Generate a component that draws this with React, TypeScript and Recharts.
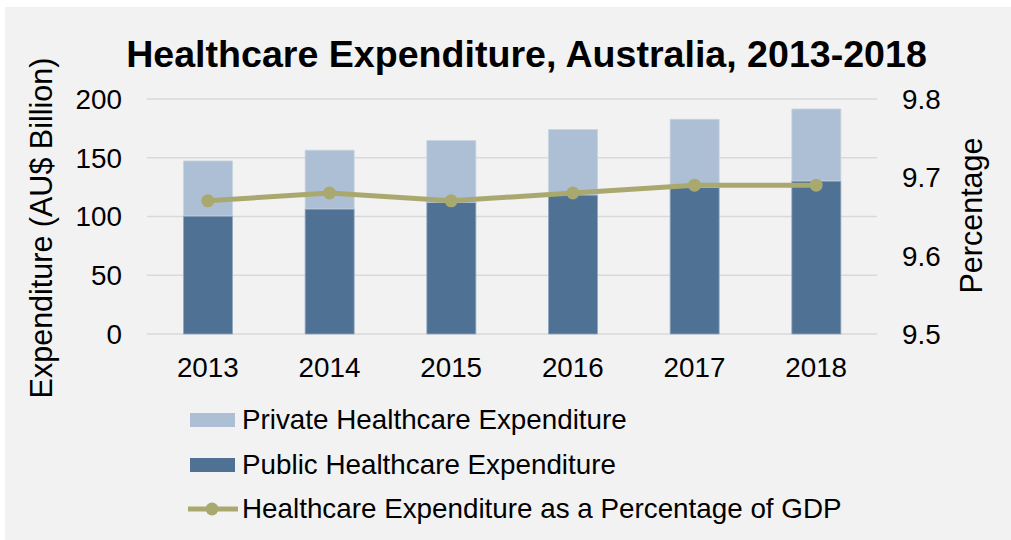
import React from "react";
import {
  ComposedChart,
  Bar,
  Line,
  XAxis,
  YAxis,
  CartesianGrid,
  Legend,
} from "recharts";

// values
const years = ["2013", "2014", "2015", "2016", "2017", "2018"];
const publicExp = [100.5, 106.5, 112.2, 118.4, 124.7, 130.3];
const privateExp = [46.8, 49.9, 52.4, 55.6, 58.0, 61.2];
const gdpShare = [9.67, 9.68, 9.67, 9.68, 9.69, 9.69];

const leftTicks = [0, 50, 100, 150, 200];
const rightTicks = [9.5, 9.6, 9.7, 9.8];

const data = years.map((year, i) => ({
  year,
  publicExp: publicExp[i],
  privateExp: privateExp[i],
  gdpShare: gdpShare[i],
}));

const FONT = "'Liberation Sans', Arial, sans-serif";
const PRIVATE_COLOR = "#adbfd4";
const PUBLIC_COLOR = "#4f7294";
const LINE_COLOR = "#a9a96f";

const legendOrder = ["privateExp", "publicExp", "gdpShare"];

const LegendBox = (props: any) => {
  const items = [...(props.payload || [])].sort(
    (a: any, b: any) =>
      legendOrder.indexOf(a.dataKey) - legendOrder.indexOf(b.dataKey)
  );
  return (
    <div style={{ position: "relative", height: 146, width: 700 }}>
      {items.map((item: any, i: number) => (
        <div
          key={item.dataKey}
          style={{
            position: "absolute",
            left: 0,
            top: 14 + i * 44.6,
            height: 44.6,
            display: "flex",
            alignItems: "center",
            fontFamily: FONT,
            fontSize: 27.8,
            color: "#000",
            whiteSpace: "nowrap",
          }}
        >
          {item.dataKey === "gdpShare" ? (
            <svg width={52} height={16} style={{ marginLeft: 183 }}>
              <line x1={0} y1={8} x2={50} y2={8} stroke={LINE_COLOR} strokeWidth={5} />
              <circle cx={24} cy={8} r={6.5} fill={LINE_COLOR} />
            </svg>
          ) : (
            <span
              style={{
                display: "inline-block",
                marginLeft: 185,
                width: 45,
                height: 14,
                background: item.color,
              }}
            />
          )}
          <span style={{ marginLeft: item.dataKey === "gdpShare" ? 2 : 7 }}>
            {item.value}
          </span>
        </div>
      ))}
    </div>
  );
};

const tickStyle = { fontFamily: FONT, fontSize: 27.8, fill: "#000" };

const AxisTitle = ({ x, y, text }: { x: number; y: number; text: string }) => (
  <text
    x={x}
    y={y}
    transform={`rotate(-90, ${x}, ${y})`}
    textAnchor="middle"
    style={{ fontFamily: FONT, fontSize: 30.5 }}
    fill="#000"
  >
    {text}
  </text>
);

export default function App() {
  return (
    <div
      style={{
        position: "absolute",
        left: 0,
        top: 0,
        width: 1011,
        height: 540,
        background: "#fff",
      }}
    >
      <div
        style={{
          position: "absolute",
          left: 5,
          top: 7,
          width: 1006,
          height: 533,
          background: "#f2f2f2",
        }}
      >
        <div
          style={{
            position: "absolute",
            left: 0,
            top: 28.5,
            width: 1043,
            textAlign: "center",
            fontFamily: FONT,
            fontWeight: "bold",
            fontSize: 37.6,
            lineHeight: "37px",
            color: "#000",
            whiteSpace: "nowrap",
          }}
        >
          Healthcare Expenditure, Australia, 2013-2018
        </div>
        <ComposedChart
          width={1006}
          height={533}
          data={data}
          margin={{ top: 92, right: 0, bottom: 10, left: 0 }}
          barCategoryGap="30%"
        >
          <CartesianGrid
            vertical={false}
            stroke="#d9d9d9"
            strokeWidth={1.5}
            yAxisId="left"
          />
          <XAxis
            dataKey="year"
            axisLine={false}
            tickLine={false}
            tickSize={0}
            tickMargin={23}
            height={50}
            tick={tickStyle}
          />
          <YAxis
            yAxisId="left"
            orientation="left"
            domain={[0, 200]}
            ticks={leftTicks}
            axisLine={false}
            tickLine={false}
            tickSize={0}
            tickMargin={25}
            width={142}
            tick={tickStyle}
            label={{
              content: () => (
                <AxisTitle x={47} y={221} text="Expenditure (AU$ Billion)" />
              ),
            }}
          />
          <YAxis
            yAxisId="right"
            orientation="right"
            domain={[9.5, 9.8]}
            ticks={rightTicks}
            tickFormatter={(v: number) => v.toFixed(1)}
            axisLine={false}
            tickLine={false}
            tickSize={0}
            tickMargin={25}
            width={134}
            tick={tickStyle}
            label={{
              content: () => <AxisTitle x={977} y={208.5} text="Percentage" />,
            }}
          />
          <Legend
            verticalAlign="bottom"
            align="left"
            layout="horizontal"
            content={<LegendBox />}
            wrapperStyle={{ left: 0, width: 700 }}
          />
          <Bar
            yAxisId="left"
            dataKey="publicExp"
            name="Public Healthcare Expenditure"
            stackId="exp"
            fill={PUBLIC_COLOR}
            stroke="#8fa6c0"
            strokeWidth={0.8}
            isAnimationActive={false}
          />
          <Bar
            yAxisId="left"
            dataKey="privateExp"
            name="Private Healthcare Expenditure"
            stackId="exp"
            fill={PRIVATE_COLOR}
            stroke="#c6d3e1"
            strokeWidth={0.8}
            isAnimationActive={false}
          />
          <Line
            yAxisId="right"
            dataKey="gdpShare"
            name="Healthcare Expenditure as a Percentage of GDP"
            type="linear"
            stroke={LINE_COLOR}
            strokeWidth={5}
            dot={{ r: 6.5, fill: LINE_COLOR, stroke: LINE_COLOR, strokeWidth: 0 }}
            isAnimationActive={false}
          />
        </ComposedChart>
      </div>
    </div>
  );
}
